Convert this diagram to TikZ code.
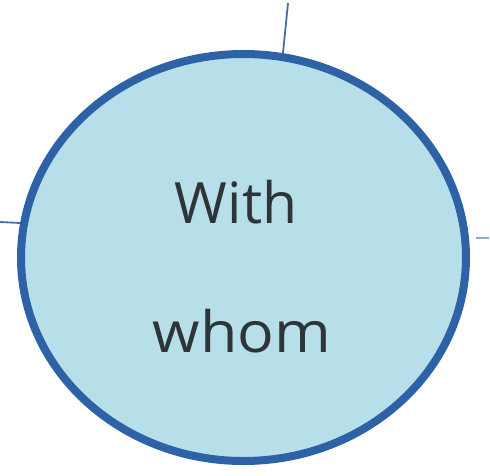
\documentclass[tikz,border=0pt]{standalone}
\usepackage{fontspec}
\setmainfont{Open Sans}
\usetikzlibrary{shapes.geometric}
\definecolor{fillblue}{HTML}{B7DFEA}
\definecolor{edgeblue}{HTML}{2D62A6}
\definecolor{stubblue}{HTML}{4A6FA8}
\definecolor{textgray}{HTML}{2E3538}
\tikzset{
  bubble/.style={ellipse, draw=edgeblue, fill=fillblue, line width=8pt, inner sep=0pt, minimum width=445pt, minimum height=407pt},
  label/.style={font=\fontsize{57}{60}\selectfont, text=textgray, inner sep=0pt, anchor=base},
  stub/.style={draw=stubblue, line width=1.8pt}
}
\begin{document}
\begin{tikzpicture}[x=1pt,y=-1pt]
\useasboundingbox (0,0) rectangle (490,475);
\node[bubble] (circ) at (243.5,257.5) {};
\node[label] (w1) at (236,223) {With};
\node[label, xscale=1.07] (w2) at (242,352) {whom};
\coordinate (topin) at (283,53);
\coordinate (topout) at (288,3);
\coordinate (leftin) at (20,223);
\coordinate (leftout) at (0,222);
\coordinate (rightin) at (476,238);
\coordinate (rightout) at (489,238);
\draw[stub] (topin) -- (topout);
\draw[stub] (leftin) -- (leftout);
\draw[stub, draw=stubblue!60] (rightin) -- (rightout);
\end{tikzpicture}
\end{document}
